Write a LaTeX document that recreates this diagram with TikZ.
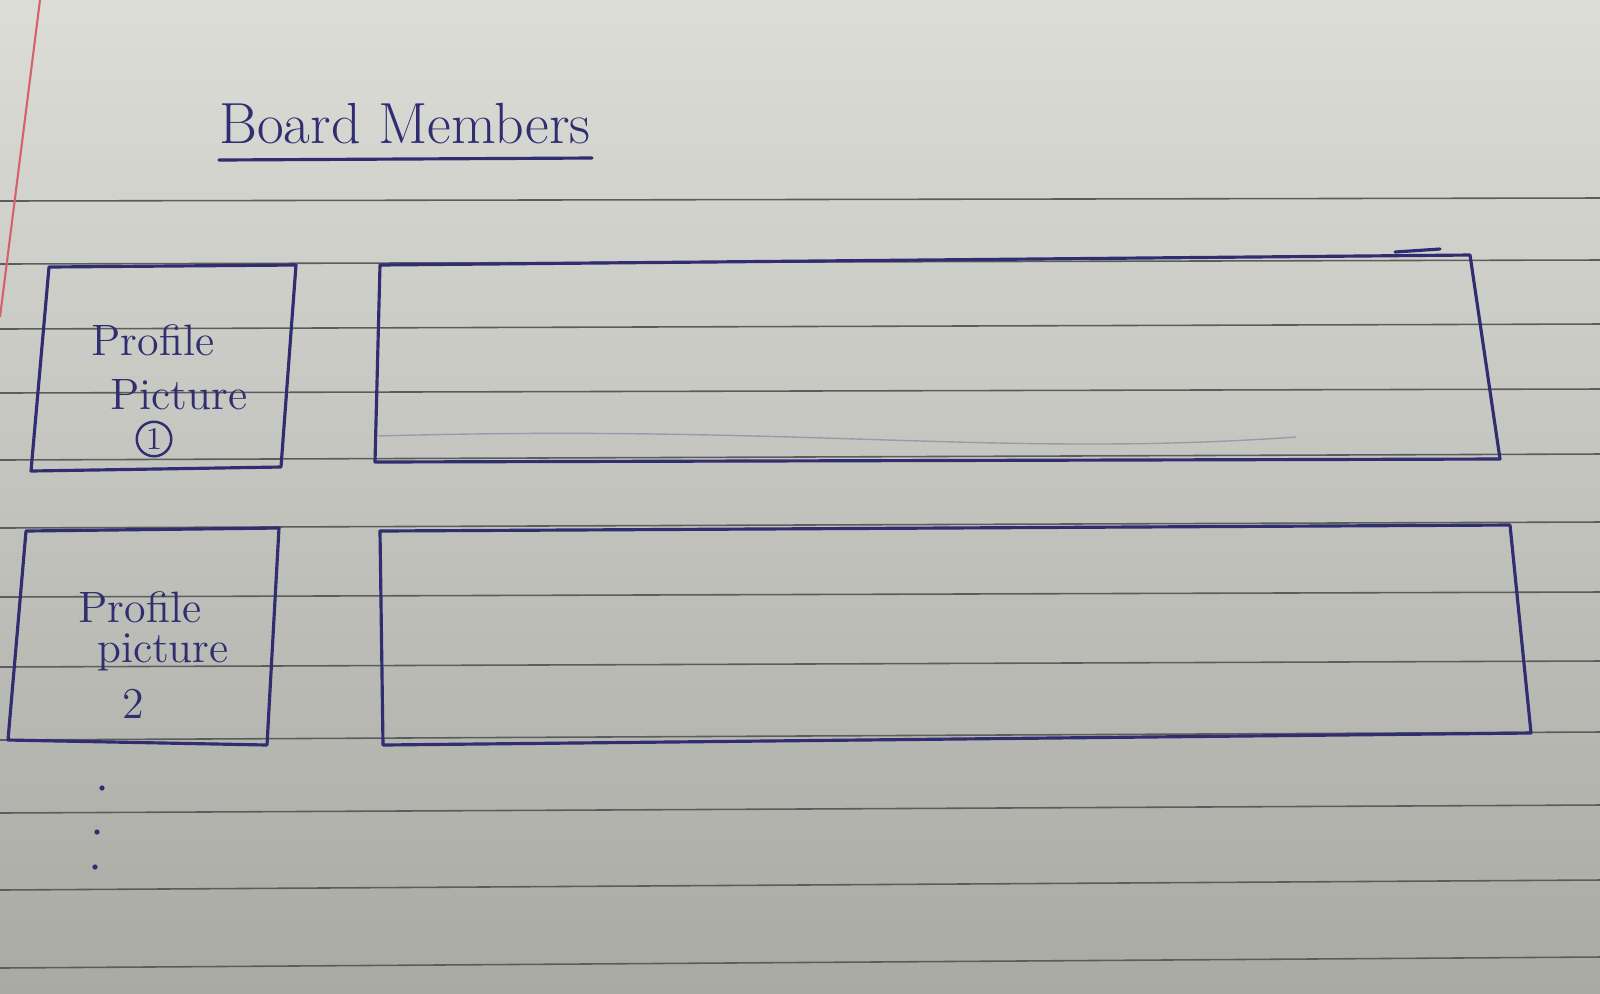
\documentclass[tikz,border=0pt]{standalone}
\usepackage{xcolor}
\usepackage{tikz}
\usetikzlibrary{positioning,calc}

\definecolor{ink}{RGB}{48,46,112}
\definecolor{paper}{RGB}{212,212,206}
\definecolor{rule}{RGB}{92,92,92}
\definecolor{margin}{RGB}{214,96,108}

\tikzset{
  pen/.style={draw=ink, line width=0.9pt, line join=round, line cap=round},
  ruling/.style={draw=rule, line width=0.45pt},
  hand/.style={text=ink, inner sep=0pt, font=\fontsize{12.5}{15}\selectfont},
  numring/.style={draw=ink, circle, line width=0.7pt, inner sep=0.8pt, text=ink, font=\fontsize{9}{11}\selectfont},
}

\begin{document}
\begin{tikzpicture}[x=0.01cm, y=-0.01cm]
    % Paper
    \shade[top color=paper!80!white, bottom color=paper!80!black] (0,0) rectangle (1600,993);
    \useasboundingbox (0,0) rectangle (1600,993);

    % Ruled lines and margin
    \foreach \yl/\yr in {201/198, 264/260, 329/324, 393/389, 460/454, 528/522, 597/592, 667/661, 740/732, 813/805, 890/880, 968/957}
        \draw[ruling] (0,\yl) -- (1600,\yr);
    \draw[margin, line width=0.6pt] (40,0) -- (0,317);

    % Title
    \node[hand, font=\fontsize{16.5}{19}\selectfont] (title) at (405,124) {Board Members};
    \draw[pen] (219,160) -- (592,158);

    % Profile picture 1
    \draw[pen] (49,267) -- (296,265) -- (281,467) -- (31,471) -- cycle;
    \node[hand] (prof1) at (153,340) {Profile};
    \node[hand] (pic1) at (179,395) {Picture};
    \node[numring] (num1) at (154,439) {1};

    % Profile picture 2
    \draw[pen] (26,531) -- (279,528) -- (267,745) -- (8,740) -- cycle;
    \node[hand] (prof2) at (140,607) {Profile};
    \node[hand] (pic2) at (163,652) {picture};
    \node[hand] (num2) at (133,704) {2};

    % Details boxes
    \draw[pen] (380,265) -- (1470,255) -- (1500,459) -- (375,462) -- cycle;
    \draw[pen] (1395,252) -- (1440,249);
    \draw[ink!35!paper, line width=0.4pt] (378,436) .. controls (800,424) and (1000,458) .. (1296,437);
    \draw[pen] (380,531) -- (1510,525) -- (1531,733) -- (383,745) -- cycle;

    % More members
    \foreach \px/\py in {102/788, 97/832, 95/867}
        \fill[ink] (\px,\py) circle (2.6);
\end{tikzpicture}
\end{document}
